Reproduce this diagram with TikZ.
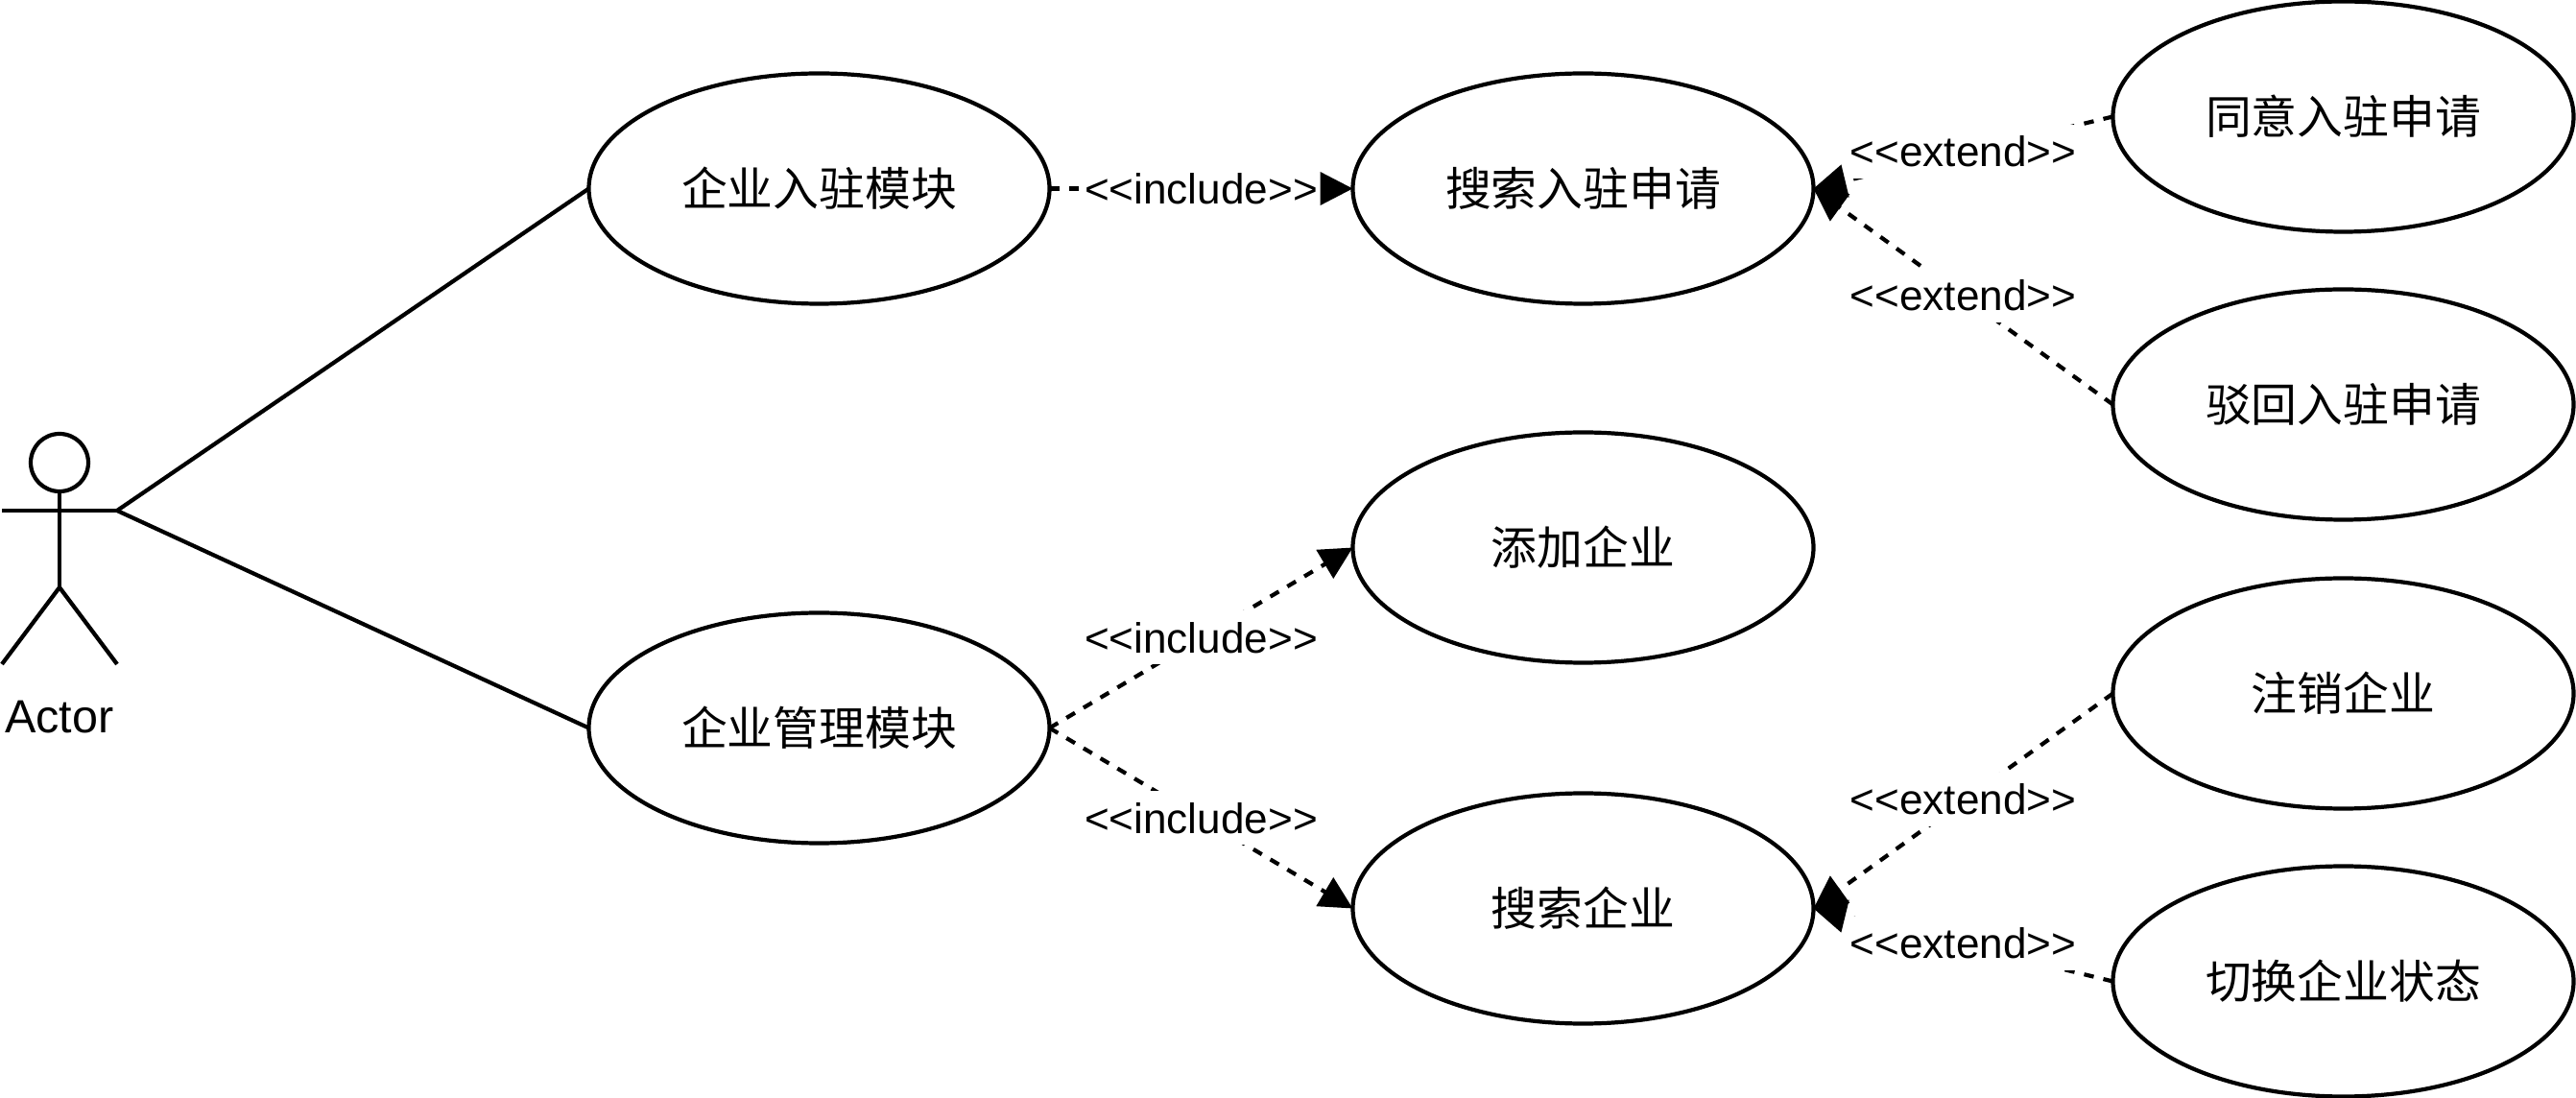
\documentclass[tikz,border=0pt]{standalone}
\usepackage{fontspec}
\setmainfont{Liberation Sans}[Ligatures=NoCommon]
\newfontfamily\cjk{Noto Sans CJK SC}
\usetikzlibrary{positioning, shapes.geometric, arrows.meta}

\begin{document}
\begin{tikzpicture}
        [
            line width=1.2pt,
            usecase/.style={ellipse, draw, outer sep=0pt, inner sep=0pt,
                            minimum width=4.8cm, minimum height=2.4cm,
                            font=\cjk\fontsize{13.6}{16}\selectfont},
            stereo/.style={fill=white, inner sep=0pt, minimum height=0.56cm,
                           font=\fontsize{12.55}{15}\selectfont},
            depend/.style={dash pattern=on 2.93pt off 2.93pt,
                           -{Triangle[length=0.34cm, width=0.34cm]}}
        ]
        \useasboundingbox (0,0) rectangle (26.84,-11.44);
        % use cases
        \node (enter) [usecase] at (8.535,-1.965) {企业入驻模块};
        \node (manage) [usecase] at (8.535,-7.585) {企业管理模块};
        \node (search) [usecase, right=3.16cm of enter] {搜索入驻申请};
        \node (add) [usecase, right=3.16cm of manage, yshift=1.88cm] {添加企业};
        \node (find) [usecase, right=3.16cm of manage, yshift=-1.88cm] {搜索企业};
        \node (agree) [usecase, right=3.12cm of search, yshift=0.75cm] {同意入驻申请};
        \node (reject) [usecase, right=3.12cm of search, yshift=-2.25cm] {驳回入驻申请};
        \node (cancel) [usecase, right=3.12cm of find, yshift=2.24cm] {注销企业};
        \node (toggle) [usecase, right=3.12cm of find, yshift=-0.76cm] {切换企业状态};
        % actor
        \node (head) [circle, draw, outer sep=0pt, inner sep=0pt, minimum size=0.6cm] at (0.62,-4.82) {};
        \coordinate (lefthand) at (0.02,-5.32);
        \coordinate (hand) at (1.22,-5.32);
        \coordinate (hip) at (0.62,-6.12);
        \coordinate (leftfoot) at (0.02,-6.92);
        \coordinate (rightfoot) at (1.22,-6.92);
        \node (actor) [inner sep=0pt, font=\fontsize{13.8}{16}\selectfont] at (0.62,-7.47) {Actor};
        \draw (head) -- (hip);
        \draw (lefthand) -- (hand);
        \foreach \i in {leftfoot,rightfoot}
            \draw (hip) -- (\i);
        \foreach \i in {enter,manage}
            \draw (hand) -- (\i.west);
        % dependencies
        \foreach \i/\j in {enter/search,manage/add,manage/find}
            \draw [depend] (\i.east) -- node [stereo] {<\kern0pt<include>\kern0pt>} (\j.west);
        \foreach \i/\j in {agree/search,reject/search,cancel/find,toggle/find}
            \draw [depend] (\i.west) -- node [stereo, yshift=0.4pt] {<\kern0pt<extend>\kern0pt>} (\j.east);
    \end{tikzpicture}
\end{document}
